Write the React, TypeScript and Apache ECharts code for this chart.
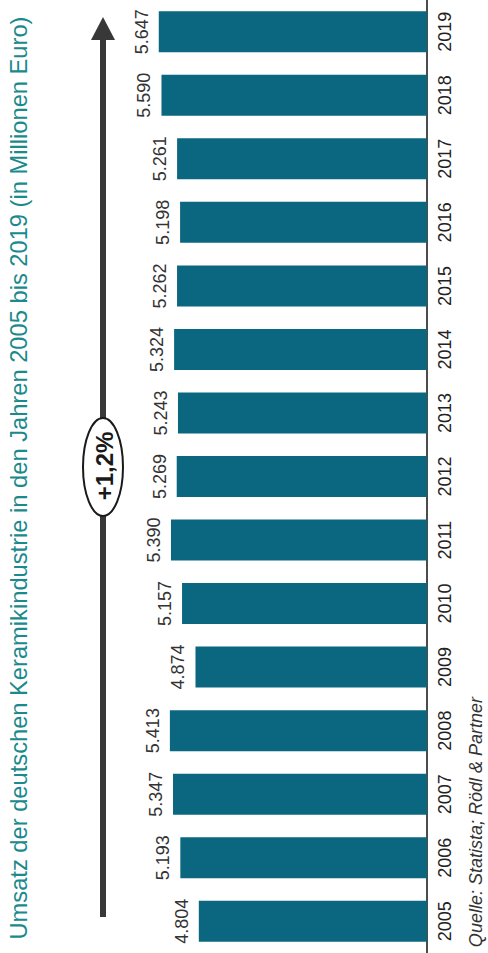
import React, { useEffect, useRef } from "react";
import * as echarts from "echarts";

const years = ["2005", "2006", "2007", "2008", "2009", "2010", "2011", "2012", "2013", "2014", "2015", "2016", "2017", "2018", "2019"];
const revenue = [4804, 5193, 5347, 5413, 4874, 5157, 5390, 5269, 5243, 5324, 5262, 5198, 5261, 5590, 5647];
const titleText = "Umsatz der deutschen Keramikindustrie in den Jahren 2005 bis 2019 (in Millionen Euro)";
const growthText = "+1,2%";
const sourceText = "Quelle: Statista; Rödl & Partner";

const SANS = "'Liberation Sans', Arial, Helvetica, sans-serif";

function fmt(v: number): string {
  const s = String(v);
  return s.length > 3 ? s.slice(0, s.length - 3) + "." + s.slice(s.length - 3) : s;
}

export default function App() {
  const ref = useRef<HTMLDivElement>(null);
  useEffect(() => {
    if (!ref.current) return;
    const chart = echarts.init(ref.current, null, { renderer: "svg" });
    chart.setOption({
      animation: false,
      backgroundColor: "#ffffff",
      grid: { left: 142, right: 61, top: -8, bottom: 0, containLabel: false },
      xAxis: {
        type: "value",
        inverse: true,
        min: 0,
        max: 6000,
        show: false,
      },
      yAxis: {
        type: "category",
        data: years,
        position: "right",
        axisLine: { show: true, lineStyle: { color: "#111", width: 1.5 } },
        axisTick: { show: false },
        axisLabel: {
          interval: 0,
          rotate: 90,
          margin: 9,
          color: "#222",
          fontSize: 18,
          fontFamily: SANS,
        },
        splitLine: { show: false },
      },
      series: [
        {
          type: "bar",
          data: revenue,
          barWidth: 41,
          itemStyle: { color: "#0b6680" },
          label: {
            show: true,
            position: "left",
            distance: 8,
            rotate: 90,
            align: "center",
            verticalAlign: "bottom",
            color: "#333",
            fontSize: 18,
            fontFamily: SANS,
            formatter: (p: any) => fmt(p.value),
          },
        },
      ],
      graphic: [
        {
          type: "text",
          x: 19,
          y: 478,
          rotation: Math.PI / 2,
          style: {
            text: titleText,
            align: "center",
            verticalAlign: "middle",
            fill: "#1b8a8c",
            fontSize: 23.7,
            fontFamily: SANS,
          },
        },
        {
          type: "line",
          shape: { x1: 103, y1: 917, x2: 103, y2: 36 },
          style: { stroke: "#383838", lineWidth: 6 },
        },
        {
          type: "polygon",
          shape: { points: [[103, 17], [91, 40], [115, 40]] },
          style: { fill: "#383838" },
        },
        {
          type: "ellipse",
          shape: { cx: 103, cy: 467, rx: 20, ry: 49 },
          style: { fill: "#ffffff", stroke: "#1a1a1a", lineWidth: 2 },
        },
        {
          type: "text",
          x: 104,
          y: 466,
          rotation: Math.PI / 2,
          style: {
            text: growthText,
            align: "center",
            verticalAlign: "middle",
            fill: "#1a1a1a",
            fontSize: 24,
            fontWeight: "bold",
            fontFamily: SANS,
          },
        },
        {
          type: "text",
          x: 476,
          y: 697,
          rotation: Math.PI / 2,
          style: {
            text: sourceText,
            align: "right",
            verticalAlign: "middle",
            fill: "#333",
            fontSize: 18,
            fontStyle: "italic",
            fontFamily: SANS,
          },
        },
      ],
    });
    return () => chart.dispose();
  }, []);
  return (
    <div
      ref={ref}
      style={{ position: "absolute", left: 0, top: 0, width: 488, height: 953 }}
    />
  );
}
